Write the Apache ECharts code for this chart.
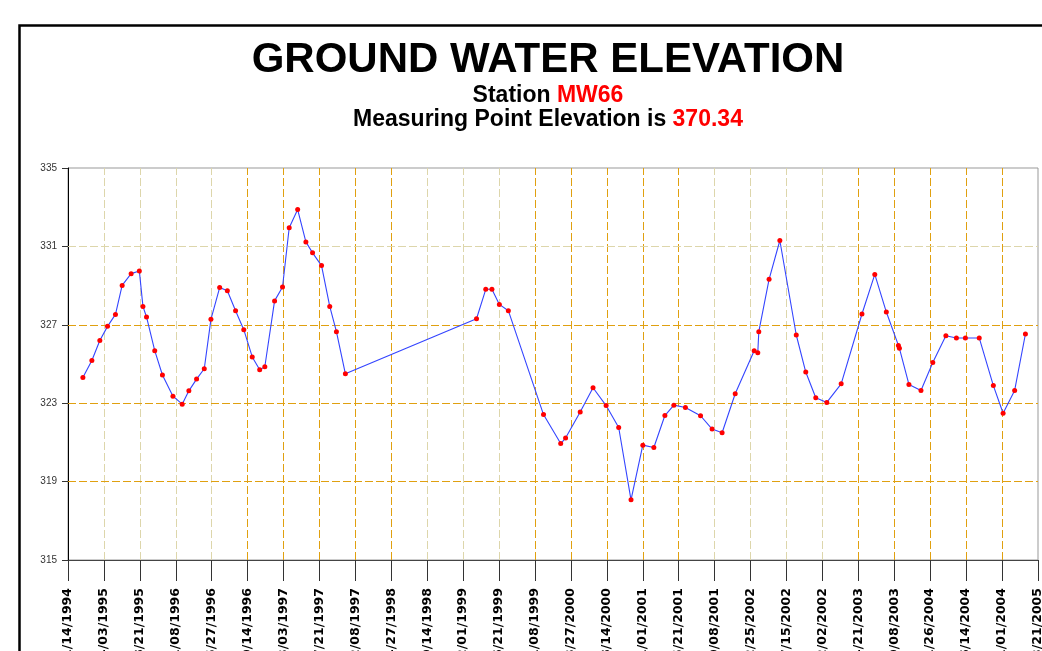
<!DOCTYPE html>
<html>
<head>
<meta charset="utf-8">
<title>Ground Water Elevation - MW66</title>
<script src="https://cdn.jsdelivr.net/npm/echarts@6/dist/echarts.min.js"></script>
<style>
  html, body { margin: 0; padding: 0; background: #fff; }
  #chart { width: 1042px; height: 651px; }
</style>
</head>
<body>
<div id="chart"></div>
<script>
// sampling dates (MM/DD/YYYY) and water elevations
const sampleDates = [
  "01/11/1995", "02/15/1995", "03/18/1995", "04/17/1995", "05/18/1995", "06/13/1995",
  "07/18/1995", "08/19/1995", "09/02/1995", "09/16/1995", "10/18/1995", "11/17/1995",
  "12/28/1995", "02/02/1996", "02/28/1996", "03/29/1996", "04/28/1996", "05/24/1996",
  "06/27/1996", "07/27/1996", "08/28/1996", "09/29/1996", "11/01/1996", "11/30/1996",
  "12/20/1996", "01/27/1997", "02/27/1997", "03/25/1997", "04/27/1997", "05/29/1997",
  "06/24/1997", "07/29/1997", "08/30/1997", "09/25/1997", "10/30/1997", "03/25/1999",
  "04/30/1999", "05/24/1999", "06/22/1999", "07/27/1999", "12/11/1999", "02/16/2000",
  "03/06/2000", "05/02/2000", "06/21/2000", "08/11/2000", "09/29/2000", "11/16/2000",
  "01/01/2001", "02/13/2001", "03/28/2001", "05/02/2001", "06/16/2001", "08/14/2001",
  "09/28/2001", "11/06/2001", "12/27/2001", "03/11/2002", "03/25/2002", "03/29/2002",
  "05/08/2002", "06/19/2002", "08/22/2002", "09/28/2002", "11/06/2002", "12/19/2002",
  "02/13/2003", "05/05/2003", "06/24/2003", "08/08/2003", "09/24/2003", "09/28/2003",
  "11/04/2003", "12/21/2003", "02/05/2004", "03/27/2004", "05/07/2004", "06/11/2004",
  "08/04/2004", "09/28/2004", "11/05/2004", "12/20/2004", "01/31/2005"
];
const elevations = [
  324.31, 325.18, 326.20, 326.92, 327.53, 329.01,
  329.61, 329.75, 327.94, 327.40, 325.68, 324.44,
  323.36, 322.95, 323.63, 324.23, 324.76, 327.28,
  328.90, 328.74, 327.72, 326.75, 325.36, 324.71,
  324.86, 328.22, 328.93, 331.95, 332.88, 331.23,
  330.67, 330.02, 327.94, 326.65, 324.50, 327.31,
  328.81, 328.81, 328.04, 327.72, 322.42, 320.94,
  321.22, 322.55, 323.79, 322.88, 321.76, 318.07,
  320.86, 320.74, 322.37, 322.90, 322.78, 322.36,
  321.68, 321.49, 323.48, 325.68, 325.57, 326.65,
  329.32, 331.30, 326.48, 324.59, 323.28, 323.04,
  323.99, 327.55, 329.57, 327.65, 325.95, 325.80,
  323.96, 323.65, 325.08, 326.44, 326.33, 326.33,
  326.33, 323.90, 322.49, 323.65, 326.53
];

// axis setup (x ticks every 140 days from 11/14/1994)
const axisStartDate = "11/14/1994";
const tickStepDays = 140;
const tickSteps = 27;
const yMin = 315;
const yMax = 335;
const yStep = 4;

const DAY = 86400000;
const parseDate = (s) => {
  const p = s.split("/");
  return Date.UTC(+p[2], +p[0] - 1, +p[1]);
};
const t0 = parseDate(axisStartDate);
const toDays = (s) => Math.round((parseDate(s) - t0) / DAY);
const pad = (n) => (n < 10 ? "0" + n : "" + n);
const daysToLabel = (d) => {
  const dt = new Date(t0 + d * DAY);
  return pad(dt.getUTCMonth() + 1) + "/" + pad(dt.getUTCDate()) + "/" + dt.getUTCFullYear();
};

const seriesData = [];
for (let i = 0; i < sampleDates.length; i++) {
  seriesData.push([toDays(sampleDates[i]), elevations[i] - yMin]);
}

const GOLD = "#e0a010";
const PALE = "#ddd6ab";
const NONE = "rgba(255,255,255,0)";
// grid line colours for the inner ticks (left to right, bottom to top)
const xGridColors = [
  PALE, PALE, PALE, PALE,
  GOLD, GOLD, GOLD, GOLD, GOLD,
  PALE, PALE, PALE,
  GOLD, GOLD, GOLD, GOLD, GOLD,
  PALE, PALE, PALE, PALE,
  GOLD, GOLD, GOLD, GOLD, GOLD];
const yGridColors = [GOLD, GOLD, GOLD, PALE];

// dashed grid drawn as mark lines at the tick values
const gridLines = [];
xGridColors.forEach((c, i) => {
  gridLines.push({ xAxis: (i + 1) * tickStepDays, lineStyle: { color: c } });
});
yGridColors.forEach((c, i) => {
  gridLines.push({ yAxis: (i + 1) * yStep, lineStyle: { color: c } });
});

const FONT = "'Liberation Sans', Arial, Helvetica, sans-serif";

const chart = echarts.init(document.getElementById("chart"));
chart.setOption({
  animation: false,
  backgroundColor: "#fff",
  graphic: [
    {
      type: "rect",
      z: 0,
      shape: { x: 19.5, y: 25.5, width: 1200, height: 800 },
      style: { fill: NONE, stroke: "#000", lineWidth: 2.5 }
    },
    {
      type: "text",
      style: {
        text: "GROUND WATER ELEVATION",
        x: 548, y: 60,
        align: "center", verticalAlign: "middle",
        fontFamily: FONT, fontSize: 42, fontWeight: "bold", fill: "#000"
      }
    },
    {
      type: "text",
      style: {
        text: "{b|Station }{r|MW66}",
        x: 548, y: 96,
        align: "center", verticalAlign: "middle",
        rich: {
          b: { fontFamily: FONT, fontSize: 23, fontWeight: "bold", fill: "#000" },
          r: { fontFamily: FONT, fontSize: 23, fontWeight: "bold", fill: "#ff0000" }
        }
      }
    },
    {
      type: "text",
      style: {
        text: "{b|Measuring Point Elevation is }{r|370.34}",
        x: 548, y: 120,
        align: "center", verticalAlign: "middle",
        rich: {
          b: { fontFamily: FONT, fontSize: 23, fontWeight: "bold", fill: "#000" },
          r: { fontFamily: FONT, fontSize: 23, fontWeight: "bold", fill: "#ff0000" }
        }
      }
    }
  ],
  grid: {
    left: 68, right: 4, top: 168, bottom: 91,
    containLabel: false,
    outerBoundsMode: "none",
    show: true, borderColor: "#999", borderWidth: 1
  },
  xAxis: {
    type: "value",
    min: 0,
    max: tickStepDays * tickSteps,
    interval: tickStepDays,
    axisLine: { lineStyle: { color: "#444", width: 1 } },
    axisTick: { length: 21, lineStyle: { color: "#333" } },
    axisLabel: {
      rotate: 90,
      margin: 28,
      fontFamily: "'DejaVu Sans', Verdana, sans-serif",
      fontSize: 12.5,
      fontWeight: "bold",
      color: "#000",
      showMinLabel: true,
      showMaxLabel: true,
      formatter: (v) => daysToLabel(v)
    },
    splitLine: { show: false }
  },
  yAxis: {
    type: "value",
    min: 0,
    max: yMax - yMin,
    interval: yStep,
    axisLine: { show: true, lineStyle: { color: "#000", width: 1 } },
    axisTick: { show: true, length: 6, lineStyle: { color: "#333" } },
    axisLabel: {
      margin: 11,
      fontFamily: FONT,
      fontSize: 10,
      color: "#333",
      formatter: (v) => String(v + yMin)
    },
    splitLine: { show: false }
  },
  series: [
    {
      name: "grid",
      type: "line",
      data: [],
      silent: true,
      z: 1,
      markLine: {
        silent: true,
        animation: false,
        symbol: ["none", "none"],
        label: { show: false },
        lineStyle: { type: [8, 3], width: 1, opacity: 1 },
        emphasis: { disabled: true },
        data: gridLines
      }
    },
    {
      name: "MW66",
      type: "line",
      data: seriesData,
      symbol: "circle",
      symbolSize: 5,
      showAllSymbol: true,
      lineStyle: { color: "#3344ff", width: 1.1 },
      itemStyle: { color: "#ff0000", borderWidth: 0 },
      z: 5
    }
  ]
});
</script>
</body>
</html>
